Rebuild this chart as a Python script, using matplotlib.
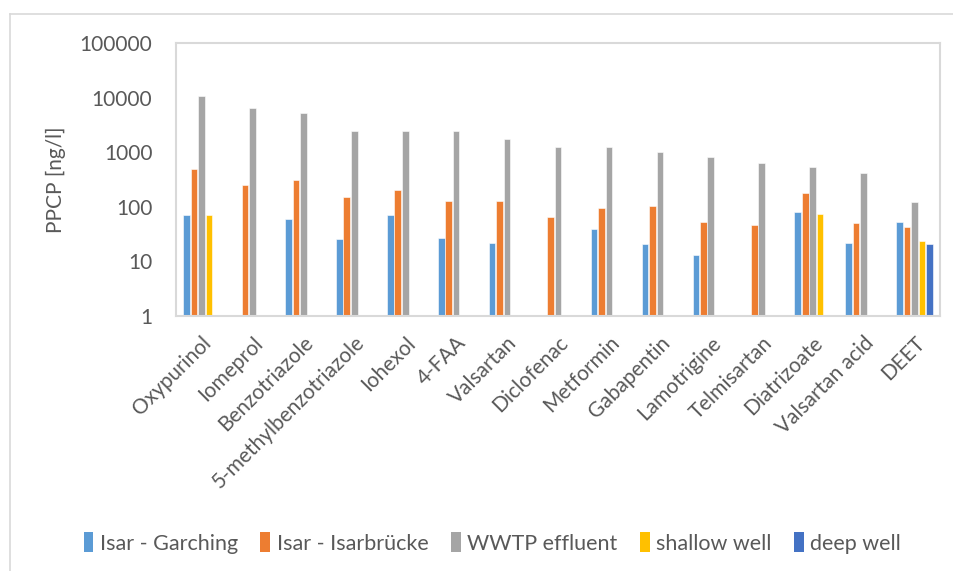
import numpy as np
import matplotlib
matplotlib.use("Agg")
import matplotlib.pyplot as plt
from matplotlib.lines import Line2D
from matplotlib.patches import Patch

categories = ["Oxypurinol", "Iomeprol", "Benzotriazole", "5-methylbenzotriazole",
              "Iohexol", "4-FAA", "Valsartan", "Diclofenac", "Metformin",
              "Gabapentin", "Lamotrigine", "Telmisartan", "Diatrizoate",
              "Valsartan acid", "DEET"]
nan = np.nan
isar_garching = [70, nan, 59, 26, 70, 27, 22, nan, 40, 21, 13, nan, 82, 22, 53]
isar_isarbruecke = [489, 248, 311, 151, 201, 128, 128, 66, 97, 102, 53, 47, 177, 50, 42]
wwtp_effluent = [10700, 6550, 5230, 2440, 2440, 2440, 1740, 1240, 1240, 990, 800, 640, 540, 410, 121]
shallow_well = [70, nan, nan, nan, nan, nan, nan, nan, nan, nan, nan, nan, 73, nan, 24]
deep_well = [nan, nan, nan, nan, nan, nan, nan, nan, nan, nan, nan, nan, nan, nan, 20.5]
series_names = ["Isar - Garching", "Isar - Isarbrücke", "WWTP effluent", "shallow well", "deep well"]
y_ticks = [1, 10, 100, 1000, 10000, 100000]
y_label = "PPCP [ng/l]"

colors = ["#5B9BD5", "#ED7D31", "#A5A5A5", "#FFC000", "#4472C4"]
series = [isar_garching, isar_isarbruecke, wwtp_effluent, shallow_well, deep_well]

plt.rcParams['font.family'] = ['Lato', 'DejaVu Sans']
txt = "#595959"

fig = plt.figure(figsize=(9.54, 5.71), dpi=100)
ax = fig.add_axes([176/954, 1-316/571, (940-176)/954, (316-43)/571])

n = len(categories)
x = np.arange(n)
pitch = 0.1466
width = 0.13
for i, (vals, c, name) in enumerate(zip(series, colors, series_names)):
    v = np.array(vals, dtype=float)
    ax.bar(x + (i - 2) * pitch, v, width=width, color=c, edgecolor="white",
           linewidth=0.4, label=name)

ax.set_yscale("log")
ax.set_ylim(1, 100000)
ax.set_xlim(-0.5, n - 0.5)
ax.set_yticks(y_ticks)
ax.set_yticklabels([str(t) for t in y_ticks])
ax.yaxis.set_minor_locator(matplotlib.ticker.NullLocator())
ax.set_xticks(x)
ax.set_xticklabels(categories, rotation=45, ha="right", va="top",
                   rotation_mode="anchor")
ax.tick_params(axis="both", length=0, labelsize=15, labelcolor=txt)
ax.tick_params(axis="x", pad=12)
ax.tick_params(axis="y", pad=17)
for s in ax.spines.values():
    s.set_color("#D9D9D9")
    s.set_linewidth(1.5)
ax.set_ylabel(y_label, fontsize=15, color=txt, labelpad=10)

handles = [Patch(facecolor=c, edgecolor="none") for c in colors]
fig.legend(handles, series_names, loc="center", bbox_to_anchor=(0.516, 1-543/571),
           ncol=5, frameon=False, fontsize=15.5, labelcolor=txt,
           handlelength=0.45, handleheight=1.0, handletextpad=0.3, columnspacing=1.05)

# chart area border
fig.add_artist(Line2D([10/954, 10/954], [0, 1-14/571], transform=fig.transFigure,
                      color="#D9D9D9", lw=1.2))
fig.add_artist(Line2D([10/954, 1], [1-14/571, 1-14/571], transform=fig.transFigure,
                      color="#D9D9D9", lw=1.2))

fig.savefig("out.png", dpi=100)
